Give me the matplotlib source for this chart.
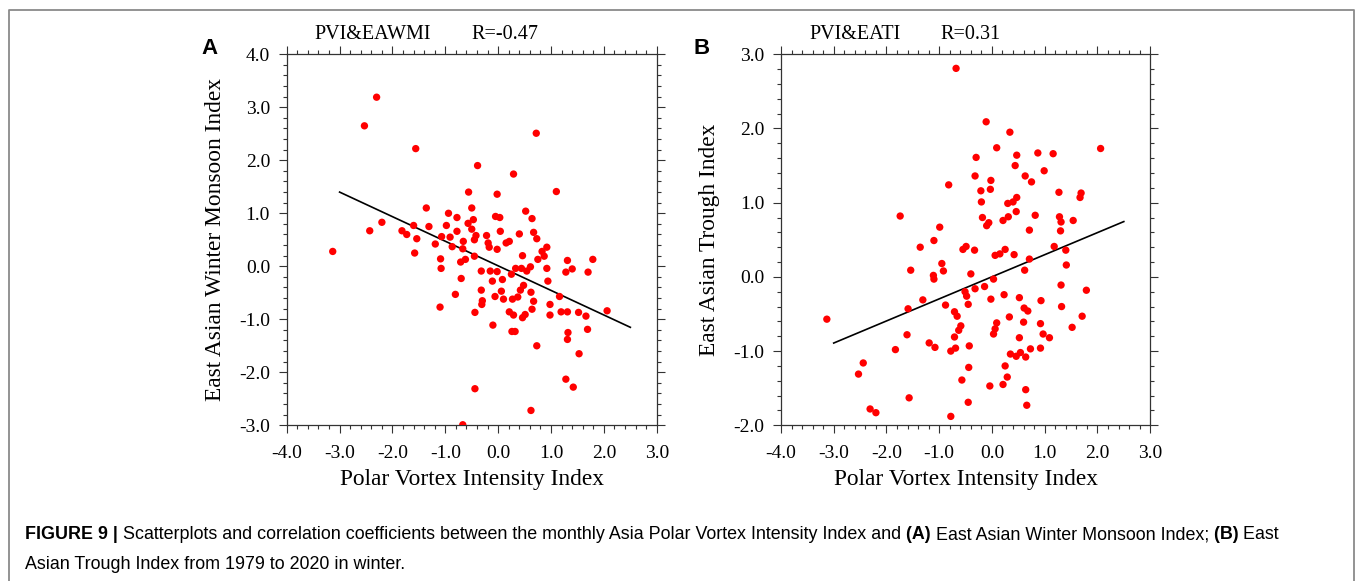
import numpy as np
import matplotlib
matplotlib.use("Agg")
import matplotlib.pyplot as plt
from matplotlib.lines import Line2D
from matplotlib.ticker import MultipleLocator, FormatStrFormatter

plt.rcParams['axes.unicode_minus'] = False

# panel A: Polar Vortex Intensity Index vs East Asian Winter Monsoon Index
pvi_a = [-2.30, -2.53, -1.56, 0.72, -0.39, 0.29, -0.56, -0.02, 1.10,
         -3.13, -2.43, -2.20, -1.82, -1.73, -1.60, -1.58, -1.54, -1.36, -1.31,
         -1.19, -1.09, -1.08, -1.10, -1.07, -0.98, -0.94, -0.91, -0.87, -0.81,
         -0.78, -0.78, -0.71, -0.70, -0.67, -0.66, -0.67, -0.62, -0.57, -0.50,
         -0.50, -0.47, -0.45, -0.42, -0.45, -0.44, -0.44, -0.32, -0.32, -0.30,
         -0.31, -0.22, -0.19, -0.17, -0.15, -0.11, -0.10, -0.06, -0.05, -0.02,
         -0.02, 0.03, 0.04, 0.06, 0.08, 0.10, 0.15, 0.21, 0.21, 0.25,
         0.26, 0.27, 0.29, 0.32, 0.33, 0.37, 0.40, 0.42, 0.44, 0.46,
         0.46, 0.48, 0.51, 0.52, 0.54, 0.61, 0.62, 0.62, 0.64, 0.67,
         0.67, 0.64, 0.73, 0.73, 0.75, 0.83, 0.87, 0.92, 0.92, 0.94,
         0.98, 0.98, 1.16, 1.19, 1.28, 1.28, 1.31, 1.31, 1.32, 1.31,
         1.40, 1.42, 1.52, 1.53, 1.66, 1.69, 1.70, 1.79, 2.06]
eawmi = [3.19, 2.65, 2.22, 2.51, 1.90, 1.74, 1.40, 1.36, 1.41,
         0.28, 0.67, 0.83, 0.67, 0.60, 0.77, 0.25, 0.52, 1.10, 0.75,
         0.42, 0.14, -0.04, -0.77, 0.56, 0.77, 1.00, 0.55, 0.37, -0.53,
         0.92, 0.66, 0.08, -0.23, -2.99, 0.47, 0.33, 0.13, 0.81, 1.10,
         0.70, 0.88, 0.50, 0.58, 0.19, -0.87, -2.31, -0.09, -0.45, -0.65,
         -0.72, 0.58, 0.44, 0.36, -0.09, -0.28, -1.11, -0.57, 0.94, 0.32,
         -0.10, 0.92, 0.66, -0.47, -0.25, -0.62, 0.44, 0.47, -0.86, -0.15,
         -1.23, -0.62, -0.92, -1.23, -0.04, -0.58, 0.61, -0.45, -0.04, -0.97,
         0.20, -0.36, -0.91, 1.04, -0.09, -0.01, -0.49, -2.72, 0.90, 0.64,
         -0.66, -0.81, 0.52, -1.50, 0.13, 0.28, 0.19, 0.36, -0.04, -0.28,
         -0.72, -0.92, -0.57, -0.86, -2.13, -0.11, 0.11, -0.86, -1.25, -1.38,
         -0.05, -2.28, -0.87, -1.65, -0.94, -1.19, -0.11, 0.13, -0.84]

# panel B: Polar Vortex Intensity Index vs East Asian Trough Index
pvi_b = [-0.68, -0.11, 0.34, 0.09, 2.06, -0.30, 0.47, 0.87, 1.16, 0.44,
         0.99, -0.32, 0.63, 0.75, -0.02, -0.82, -0.21, -0.03, 1.27, 1.69,
         1.67, 0.47,
         -0.20, 0.30, 0.40, -1.74, -0.18, -0.06, -0.10, 0.21, 0.31, 0.46,
         0.82, 1.28, 1.31, 1.54, -0.99, 1.30, 0.71, -1.10, -1.36, -0.55,
         -0.49, -0.33, 0.25, 0.06, 0.15, 0.42, 1.18, 1.40, 1.41, 0.71,
         -0.95, -0.92, -1.54, -1.11, -1.10, -0.40, 0.62, 0.03, -0.14, -0.32,
         -0.51, -0.48, -0.45, 0.23, 1.31, 1.79, -0.02, 0.52, 0.93, 1.32,
         -1.31, -1.59, -0.88, -0.71, -0.66, 0.61, 0.68, 0.33, 0.09, 0.60,
         0.92, 1.71, 1.52, -0.59, -0.63, 0.06, 0.03, 0.97, 1.09, -0.71,
         0.52, -1.61, -1.19, -1.08, -0.69, -0.78, -0.43, -1.83, 0.73, 0.92,
         0.35, 0.46, 0.54, 0.64, -2.44, -2.53, 0.25, -0.44, 0.29, -0.57,
         -0.04, 0.21, 0.64, -1.57, -0.45, 0.66, -2.31, -2.20, -0.78, -3.13]
eati = [2.81, 2.09, 1.95, 1.74, 1.73, 1.61, 1.64, 1.67, 1.66, 1.50,
        1.43, 1.36, 1.36, 1.28, 1.30, 1.24, 1.16, 1.18, 1.14, 1.13,
        1.07, 1.07,
        1.01, 0.99, 1.01, 0.82, 0.80, 0.73, 0.69, 0.76, 0.81, 0.88,
        0.83, 0.81, 0.74, 0.76, 0.67, 0.62, 0.63, 0.49, 0.40, 0.37,
        0.41, 0.36, 0.37, 0.29, 0.31, 0.30, 0.41, 0.36, 0.16, 0.24,
        0.18, 0.08, 0.09, 0.02, -0.03, 0.04, 0.09, -0.03, -0.13, -0.16,
        -0.20, -0.26, -0.37, -0.24, -0.11, -0.18, -0.30, -0.28, -0.32, -0.40,
        -0.31, -0.43, -0.38, -0.47, -0.53, -0.42, -0.46, -0.54, -0.62, -0.61,
        -0.63, -0.53, -0.68, -0.66, -0.72, -0.70, -0.77, -0.77, -0.82, -0.81,
        -0.82, -0.78, -0.89, -0.95, -0.96, -1.00, -0.93, -0.98, -0.97, -0.96,
        -1.04, -1.07, -1.02, -1.08, -1.16, -1.31, -1.20, -1.22, -1.35, -1.39,
        -1.47, -1.45, -1.52, -1.63, -1.69, -1.73, -1.78, -1.83, -1.88, -0.57]

fit_range = [-3.0, 2.5]

serif = 'Liberation Serif'
sans = 'Liberation Sans'
spine_col = '#333333'

fig = plt.figure(figsize=(13.57, 5.81), dpi=100)

panels = [
    dict(rect=[0.2113, 0.268, 0.2727, 0.6386], x=pvi_a, y=eawmi, ylim=(-3, 4),
         ylabel='East Asian Winter Monsoon Index', name='PVI&EAWMI', r='R=-0.47',
         letter='A', lx=0.1486, nx=0.2314, rx=0.3471),
    dict(rect=[0.5755, 0.268, 0.2721, 0.6386], x=pvi_b, y=eati, ylim=(-2, 3),
         ylabel='East Asian Trough Index', name='PVI&EATI', r='R=0.31',
         letter='B', lx=0.5114, nx=0.5964, rx=0.6927),
]

for p in panels:
    ax = fig.add_axes(p['rect'])
    ax.scatter(p['x'], p['y'], s=28, color='#ff0000', edgecolors='none', zorder=3)
    k, b = np.polyfit(p['x'], p['y'], 1)
    xs = np.array(fit_range)
    ax.plot(xs, k * xs + b, color='black', lw=1.2, zorder=2)

    ax.set_xlim(-4, 3)
    ax.set_ylim(*p['ylim'])
    ax.xaxis.set_major_locator(MultipleLocator(1.0))
    ax.xaxis.set_minor_locator(MultipleLocator(0.2))
    ax.yaxis.set_major_locator(MultipleLocator(1.0))
    ax.yaxis.set_minor_locator(MultipleLocator(0.2))
    ax.xaxis.set_major_formatter(FormatStrFormatter('%.1f'))
    ax.yaxis.set_major_formatter(FormatStrFormatter('%.1f'))
    ax.tick_params(which='both', direction='out', top=True, right=True,
                   color=spine_col, width=0.8)
    ax.tick_params(which='major', length=6, labelsize=14)
    ax.tick_params(axis='x', which='major', pad=8)
    ax.tick_params(axis='y', which='major', pad=6)
    ax.tick_params(which='minor', length=3)
    for lab in ax.get_xticklabels() + ax.get_yticklabels():
        lab.set_family(serif)
    for sp in ax.spines.values():
        sp.set_color(spine_col)
        sp.set_linewidth(0.9)

    ax.set_xlabel('Polar Vortex Intensity Index', family=serif, fontsize=16.8)
    ax.set_ylabel(p['ylabel'], family=serif, fontsize=16.8)
    ax.xaxis.set_label_coords(0.5, -0.118)
    ax.yaxis.set_label_coords(-0.165, 0.5)

    fig.text(p['nx'], 0.9324, p['name'], family=serif, fontsize=14.5, va='baseline')
    fig.text(p['rx'], 0.9324, p['r'], family=serif, fontsize=14.5, va='baseline')
    fig.text(p['lx'], 0.907, p['letter'], family=sans, fontsize=16,
             fontweight='bold', va='baseline')

# frame around the figure panels
fig.add_artist(Line2D([0.0069, 0.0069, 0.9978, 0.9978], [0, 0.9828, 0.9828, 0],
                      transform=fig.transFigure, color='#8a8a8a', lw=1.3))

# caption with bold pieces
ref_ax = fig.axes[0]
cap_size = 12.9


def caption_line(pieces, x, y):
    t = fig.text(x, y, pieces[0][0], family=sans, fontsize=cap_size,
                 fontweight=pieces[0][1], va='baseline')
    for s, w in pieces[1:]:
        t = ref_ax.annotate(s, xy=(1, 0), xycoords=t, va='bottom', ha='left',
                            family=sans, fontsize=cap_size, fontweight=w,
                            annotation_clip=False)


caption_line([('FIGURE 9 |', 'bold'),
              (' Scatterplots and correlation coefficients between the monthly '
               'Asia Polar Vortex Intensity Index and', 'normal'),
              (' (A)', 'bold'),
              (' East Asian Winter Monsoon Index;', 'normal'),
              (' (B)', 'bold'),
              (' East', 'normal')], 0.0184, 0.0718)
caption_line([('Asian Trough Index from 1979 to 2020 in winter.', 'normal')],
             0.0184, 0.0212)

fig.savefig('out.png', dpi=100)
